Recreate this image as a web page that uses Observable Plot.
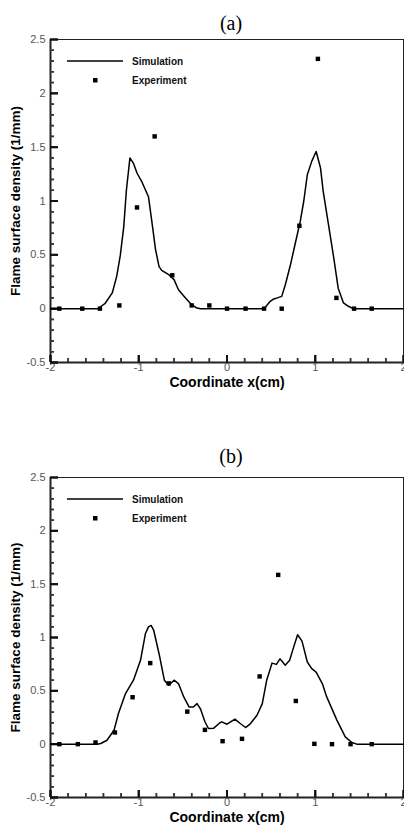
<!DOCTYPE html>
<html>
<head>
<meta charset="utf-8">
<script src="https://cdn.jsdelivr.net/npm/d3@7"></script>
<script src="https://cdn.jsdelivr.net/npm/@observablehq/plot@0.6"></script>
<style>
  body { margin: 0; background: #fff; }
  #wrap { position: relative; width: 404px; height: 830px; overflow: hidden; }
  .panel { position: absolute; left: 0; }
</style>
</head>
<body>
<div id="wrap">
  <div class="panel" id="pa" style="top:0px"></div>
  <div class="panel" id="pb" style="top:415px"></div>
</div>
<script>
// ---- Panel (a) data ----
const simAX = [-2, -1.45, -1.43, -1.38, -1.30, -1.25, -1.21, -1.17, -1.14, -1.10, -1.06, -1.02, -0.96, -0.89, -0.85, -0.81, -0.77, -0.74, -0.66, -0.60, -0.55, -0.47, -0.40, -0.34, -0.30, 0.42, 0.49, 0.53, 0.57, 0.62, 0.66, 0.72, 0.77, 0.83, 0.87, 0.91, 0.96, 1.01, 1.06, 1.09, 1.15, 1.21, 1.26, 1.32, 1.38, 1.43, 2];
const simAY = [0, 0, 0.02, 0.05, 0.146, 0.30, 0.49, 0.76, 1.10, 1.40, 1.35, 1.26, 1.17, 1.04, 0.80, 0.55, 0.39, 0.356, 0.316, 0.27, 0.176, 0.10, 0.037, 0.006, 0, 0, 0.068, 0.09, 0.10, 0.114, 0.22, 0.41, 0.594, 0.81, 1.0, 1.244, 1.368, 1.46, 1.306, 1.09, 0.78, 0.47, 0.19, 0.053, 0.02, 0, 0];
const expAX = [-1.90, -1.64, -1.44, -1.22, -1.02, -0.82, -0.62, -0.40, -0.20, 0.0, 0.21, 0.42, 0.62, 0.82, 1.03, 1.24, 1.44, 1.64];
const expAY = [0, 0, 0, 0.03, 0.94, 1.60, 0.31, 0.03, 0.03, 0, 0, 0, 0, 0.77, 2.32, 0.10, 0, 0];

// ---- Panel (b) data ----
const simBX = [-2, -1.47, -1.43, -1.36, -1.28, -1.23, -1.15, -1.06, -0.98, -0.925, -0.89, -0.86, -0.83, -0.77, -0.71, -0.66, -0.60, -0.55, -0.49, -0.43, -0.38, -0.34, -0.30, -0.25, -0.21, -0.15, -0.09, -0.06, 0.0, 0.09, 0.15, 0.21, 0.26, 0.34, 0.40, 0.45, 0.51, 0.56, 0.60, 0.66, 0.71, 0.755, 0.80, 0.85, 0.91, 0.96, 1.01, 1.08, 1.13, 1.245, 1.34, 1.415, 1.47, 2];
const simBY = [0, 0, 0.006, 0.037, 0.13, 0.287, 0.474, 0.60, 0.786, 1.035, 1.10, 1.113, 1.066, 0.848, 0.60, 0.552, 0.60, 0.568, 0.443, 0.349, 0.349, 0.38, 0.33, 0.21, 0.147, 0.15, 0.194, 0.209, 0.187, 0.234, 0.194, 0.156, 0.187, 0.271, 0.38, 0.60, 0.76, 0.748, 0.80, 0.74, 0.786, 0.91, 1.026, 0.966, 0.77, 0.708, 0.676, 0.568, 0.443, 0.225, 0.068, 0.016, 0, 0];
const expBX = [-1.90, -1.69, -1.49, -1.27, -1.07, -0.87, -0.66, -0.45, -0.25, -0.05, 0.17, 0.37, 0.58, 0.78, 0.99, 1.19, 1.40, 1.64];
const expBY = [0, 0, 0.016, 0.11, 0.44, 0.76, 0.57, 0.305, 0.134, 0.028, 0.05, 0.635, 1.587, 0.405, 0.003, 0, 0, 0];

// ---- ticks & labels ----
const xMajor = [-2, -1, 0, 1, 2];
const xMinor = [-1.8, -1.6, -1.4, -1.2, -0.8, -0.6, -0.4, -0.2, 0.2, 0.4, 0.6, 0.8, 1.2, 1.4, 1.6, 1.8];
const yMajor = [-0.5, 0, 0.5, 1, 1.5, 2, 2.5];
const yMinor = [-0.4, -0.3, -0.2, -0.1, 0.1, 0.2, 0.3, 0.4, 0.6, 0.7, 0.8, 0.9, 1.1, 1.2, 1.3, 1.4, 1.6, 1.7, 1.8, 1.9, 2.1, 2.2, 2.3, 2.4];
const xTitle = "Coordinate x(cm)";
const yTitle = "Flame surface density (1/mm)";
const seriesNames = ["Simulation", "Experiment"];
const panelTitles = ["(a)", "(b)"];

const sans = "Arial, 'Liberation Sans', sans-serif";
const serif = "'Times New Roman', 'Liberation Serif', serif";
const fmt = d => String(d);

function panel(simX, simY, expX, expY, title, cfg) {
  const sim = simX.map((x, i) => ({x, y: simY[i]}));
  const exp = expX.map((x, i) => ({x, y: expY[i]}));
  const W = 404, ML = 50, MR = 1;
  const pw = W - ML - MR;
  const ph = cfg.height - cfg.mt - cfg.mb;
  const svg = Plot.plot({
    width: W,
    height: cfg.height,
    marginTop: cfg.mt,
    marginBottom: cfg.mb,
    marginLeft: ML,
    marginRight: MR,
    x: {domain: [-2, 2]},
    y: {domain: [-0.5, 2.5]},
    style: {fontFamily: sans, background: "transparent", overflow: "visible", color: "#111"},
    marks: [
      Plot.frame({stroke: "#222", strokeWidth: 1}),
      Plot.ruleX([-2], {stroke: "#222", strokeWidth: 2}),
      Plot.ruleY([-0.5], {stroke: "#222", strokeWidth: 2}),
      Plot.axisY(yMajor, {tickSize: 0, tickPadding: 5, tickFormat: fmt, fontSize: 11, fill: "#555", label: null}),
      Plot.axisX(xMajor, {tickSize: 0, tickPadding: 1, tickFormat: fmt, fontSize: 11, fill: "#555", label: null}),
      // inward ticks on left and bottom (axis tick marks shifted into the frame)
      Plot.axisY(yMajor, {tickSize: 8, dx: 8, fill: "none", stroke: "#111", strokeWidth: 2, label: null}),
      Plot.axisY(yMinor, {tickSize: 4, dx: 4, fill: "none", stroke: "#333", strokeWidth: 1.5, label: null}),
      Plot.axisX(xMajor, {tickSize: 7, dy: -7, fill: "none", stroke: "#111", strokeWidth: 2, label: null}),
      Plot.axisX(xMinor, {tickSize: 4, dy: -4, fill: "none", stroke: "#333", strokeWidth: 1.5, label: null}),
      Plot.tickY(yMajor, {y: d => d, insetRight: pw - 8, stroke: "#111", strokeWidth: 2}),
      Plot.tickY(yMinor, {y: d => d, insetRight: pw - 4, stroke: "#333", strokeWidth: 1.5}),
      Plot.tickX(xMajor, {x: d => d, insetTop: ph - 7, stroke: "#111", strokeWidth: 2}),
      Plot.tickX(xMinor, {x: d => d, insetTop: ph - 4, stroke: "#333", strokeWidth: 1.5}),
      Plot.line(sim, {x: "x", y: "y", stroke: "#000", strokeWidth: 1.5}),
      Plot.dot(exp, {x: "x", y: "y", symbol: "square", r: 2.5, fill: "#000"}),
      Plot.text([xTitle], {text: d => d, frameAnchor: "bottom", dy: 24, textAnchor: "middle", fontWeight: "bold", fontSize: 14, fill: "#000"}),
      Plot.text([yTitle], {text: d => d, frameAnchor: "left", dx: -35, rotate: -90, textAnchor: "middle", fontWeight: "bold", fontSize: 13.5, fill: "#000"}),
      Plot.text([title], {text: d => d, frameAnchor: "top", dx: 4, dy: cfg.titleDy, textAnchor: "middle", fontFamily: serif, fontSize: 20, fill: "#000"})
    ]
  });
  // legend (inside the plot area, top-left)
  const s = d3.select(svg);
  const g = s.append("g").attr("font-family", sans).attr("font-size", 10).attr("font-weight", "bold")
    .attr("text-anchor", "start");
  g.append("line").attr("x1", 67).attr("x2", 123).attr("y1", cfg.mt + 22).attr("y2", cfg.mt + 22)
    .attr("stroke", "#000").attr("stroke-width", 1.5);
  g.append("rect").attr("x", 93).attr("y", cfg.mt + 39).attr("width", 4.5).attr("height", 4.5).attr("fill", "#000");
  g.append("text").attr("x", 132).attr("y", cfg.mt + 22).attr("dy", "0.35em").attr("text-anchor", "start").text(seriesNames[0]);
  g.append("text").attr("x", 132).attr("y", cfg.mt + 41).attr("dy", "0.35em").attr("text-anchor", "start").text(seriesNames[1]);
  return svg;
}

document.getElementById("pa").appendChild(
  panel(simAX, simAY, expAX, expAY, panelTitles[0], {height: 400, mt: 39, mb: 38, titleDy: -24}));
document.getElementById("pb").appendChild(
  panel(simBX, simBY, expBX, expBY, panelTitles[1], {height: 415, mt: 62, mb: 33, titleDy: -29}));
</script>
</body>
</html>
